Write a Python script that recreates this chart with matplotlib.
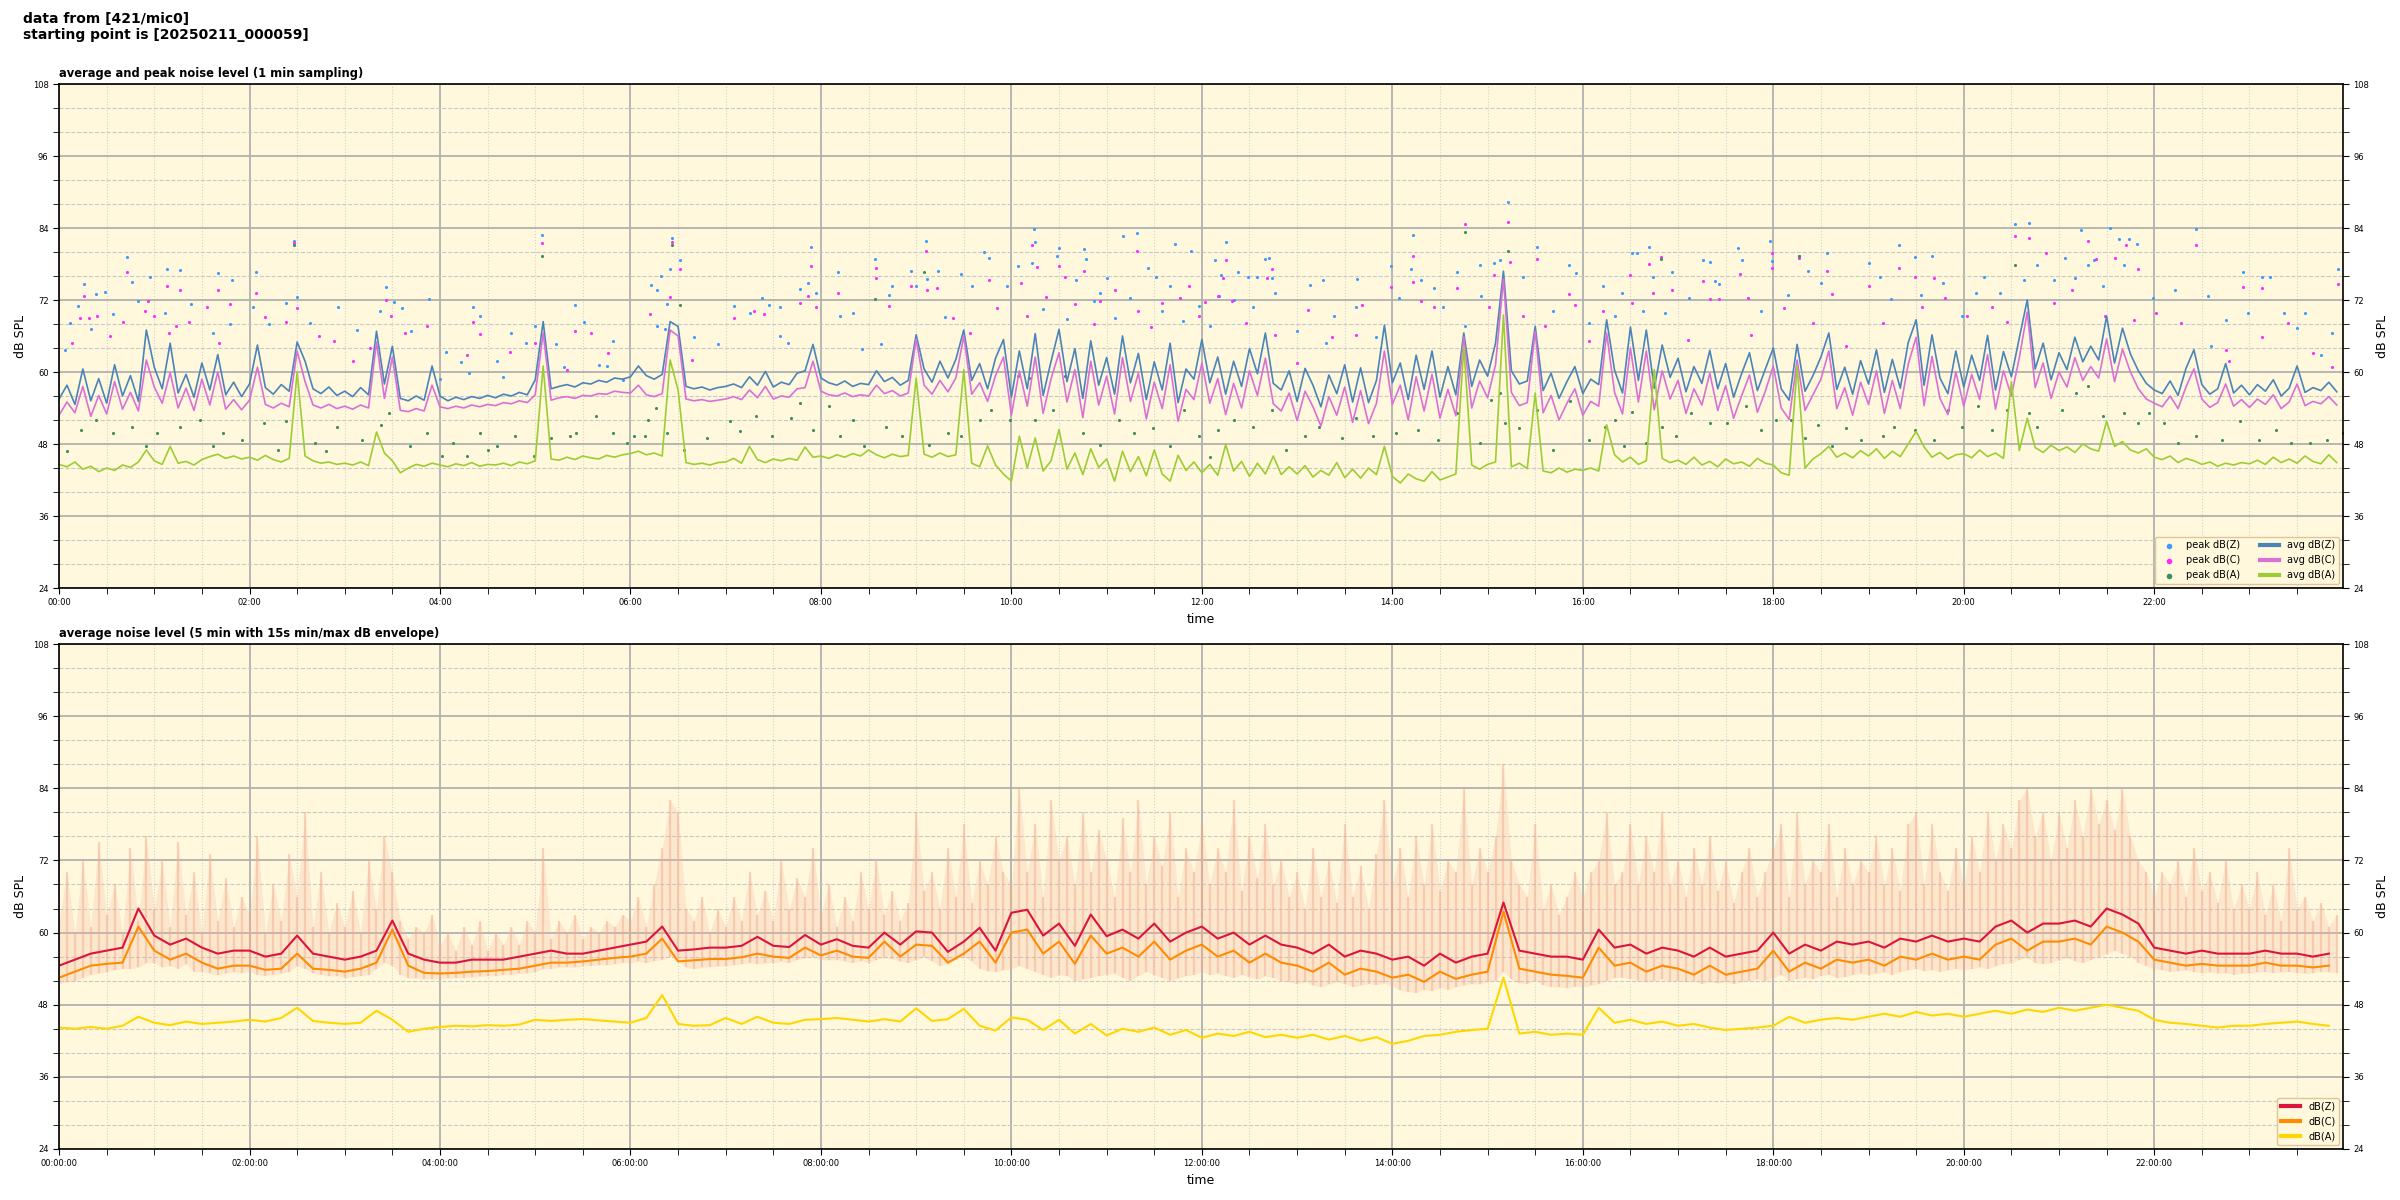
import numpy as np
import matplotlib.pyplot as plt
import matplotlib.dates as mdates
from matplotlib.ticker import MultipleLocator


# ==========================================================
# Data
# ==========================================================

day0 = np.datetime64("2025-02-11T00:00")

# --- top panel: 1 min averages, sampled here every 5 min (one row = one hour)
avg_z = [
    55.5, 57.8, 54.6, 60.5, 55.2, 58.9, 54.8, 61.2, 56.0, 59.4, 55.1, 67.0,
    60.8, 57.2, 64.8, 56.5, 59.6, 55.8, 61.5, 57.0, 62.9, 56.2, 58.3, 55.9,
    58.0, 64.5, 57.4, 56.3, 57.9, 56.8, 65.0, 61.8, 57.2, 56.4, 57.5, 56.1,
    56.8, 55.9, 57.4, 56.2, 66.8, 58.0, 64.3, 55.6, 55.2, 56.0, 55.3, 61.0,
    56.0, 55.2, 55.8, 55.4, 55.9, 55.6, 56.1, 55.7, 56.3, 56.0, 56.6, 56.2,
    58.7, 68.4, 57.2, 57.6, 57.9, 57.5, 58.2, 58.0, 58.6, 58.3, 59.0, 58.8,
    59.2, 61.0, 59.4, 58.8, 59.6, 68.4, 67.6, 57.6, 57.2, 57.5, 57.0, 57.4,
    57.6, 58.0, 57.4, 59.2, 57.8, 60.1, 57.5, 58.3, 57.9, 59.8, 60.2, 64.6,
    59.0, 58.2, 57.8, 58.5, 57.6, 58.1, 57.9, 60.2, 58.4, 59.1, 57.8, 58.6,
    66.2, 60.5, 58.3, 61.8, 59.0, 62.1, 67.0, 58.6, 61.4, 57.2, 62.3, 65.4,
    55.8, 63.5, 57.2, 66.4, 56.1, 61.8, 67.1, 58.4, 63.9, 55.6, 65.2, 57.8,
    62.4, 56.3, 66.0, 58.2, 63.1, 55.4, 61.7, 57.0, 64.8, 54.9, 60.5, 58.8,
    65.4, 58.2, 62.5, 56.3, 61.8, 57.6, 63.9, 59.7, 66.5, 58.1, 57.0, 60.2,
    55.1, 60.6, 57.8, 54.2, 59.5, 56.4, 61.2, 55.0, 60.7, 54.9, 58.6, 67.8,
    58.2, 61.5, 55.4, 62.8, 57.1, 63.5, 55.8, 60.9, 56.2, 66.5, 57.6, 62.0,
    59.3, 64.8, 76.8, 60.2, 58.0, 58.5, 67.6, 56.9, 59.8, 55.6, 58.4, 60.9,
    56.4, 58.8, 57.9, 68.7, 60.3, 56.5, 67.5, 58.6, 67.0, 57.3, 64.5, 59.1,
    62.3, 56.7, 60.9, 58.1, 63.6, 57.2, 61.4, 55.8, 59.7, 63.2, 56.9, 60.5,
    64.0, 57.2, 55.3, 64.6, 56.8, 59.4, 62.5, 66.5, 57.1, 60.8, 56.3, 61.9,
    58.0, 63.7, 56.6, 62.1, 57.3, 64.9, 68.7, 57.8, 66.2, 59.0, 56.4, 63.5,
    57.5, 62.8, 58.6, 66.1, 57.0, 63.4, 59.2, 65.7, 72.0, 60.5, 64.8, 58.7,
    63.2, 60.4, 65.8, 61.7, 64.3, 62.0, 69.3, 61.5, 67.3, 63.0, 60.2, 58.1,
    57.0, 56.4, 58.5, 56.1, 60.6, 63.7, 57.9, 56.3, 57.2, 61.4, 56.5, 57.8,
    56.2, 57.9, 56.8, 58.7, 56.0, 57.3, 61.0, 56.6, 57.4, 56.9, 58.3, 56.7,
]
avg_c = [
    52.8, 55.0, 53.2, 57.6, 52.6, 56.1, 53.0, 58.4, 53.8, 56.6, 53.5, 62.0,
    57.5, 54.8, 59.9, 54.0, 57.3, 53.6, 58.8, 54.5, 60.0, 53.8, 55.4, 53.7,
    55.3, 60.8, 54.6, 54.0, 54.8, 54.2, 63.5, 58.4, 54.5, 54.0, 54.6, 53.9,
    54.3, 53.8, 54.5, 54.0, 65.0, 55.6, 62.5, 53.6, 53.4, 53.9, 53.5, 57.8,
    54.2, 53.9, 54.3, 54.0, 54.5, 54.2, 54.6, 54.4, 54.9, 54.7, 55.2, 54.9,
    56.2, 66.5, 55.3, 55.7, 55.9, 55.6, 56.1, 56.0, 56.4, 56.3, 56.8, 56.6,
    56.5, 57.8, 56.2, 55.9, 56.4, 67.0, 66.0, 55.5, 55.2, 55.4, 55.1, 55.3,
    55.5, 55.9, 55.4, 57.0, 55.7, 57.6, 55.5, 56.0, 55.8, 57.2, 57.4, 61.8,
    56.8, 56.2, 56.0, 56.5, 55.9, 56.2, 56.0, 57.8, 56.4, 56.9, 56.0, 56.5,
    65.5, 57.8, 56.3, 58.6, 56.7, 59.0, 66.0, 56.3, 58.2, 55.1, 59.4, 62.5,
    52.8, 60.2, 54.3, 62.5, 53.1, 58.9, 63.2, 55.0, 60.4, 52.4, 61.8, 54.5,
    59.3, 53.0, 62.4, 55.1, 59.8, 52.2, 58.3, 53.9, 61.2, 51.8, 57.1, 55.4,
    61.5, 54.8, 58.9, 52.9, 58.1, 54.0, 60.2, 56.1, 62.3, 54.7, 53.5, 56.5,
    51.9, 56.8, 54.2, 51.0, 55.9, 52.8, 57.5, 51.6, 56.9, 51.4, 54.8, 63.5,
    54.6, 57.8, 52.0, 59.2, 53.5, 59.6, 52.3, 57.1, 52.7, 65.8, 54.0, 58.5,
    55.7, 61.2, 75.5, 56.6, 54.4, 54.9, 66.8, 53.2, 56.1, 52.0, 54.8, 57.2,
    52.8, 55.1, 54.3, 66.5, 56.6, 53.0, 64.0, 55.0, 63.5, 53.7, 60.2, 55.5,
    58.6, 53.1, 57.2, 54.5, 59.8, 53.6, 57.7, 52.3, 56.0, 59.5, 53.3, 56.8,
    61.0, 54.0, 52.1, 62.0, 53.6, 56.2, 58.8, 63.5, 53.9, 57.4, 52.8, 58.3,
    54.6, 60.2, 53.1, 58.6, 53.9, 61.3, 65.8, 54.4, 62.6, 55.6, 52.9, 60.0,
    54.3, 59.6, 55.4, 62.9, 53.8, 60.2, 56.0, 62.4, 70.0, 57.4, 61.5, 55.6,
    60.0, 57.5, 62.4, 58.6, 60.9, 59.0, 65.5, 58.4, 63.8, 60.0, 57.2, 55.5,
    54.8, 54.2, 56.0, 53.9, 57.5, 60.5, 55.5, 54.1, 54.9, 58.0, 54.3, 55.4,
    54.1, 55.5, 54.6, 56.2, 53.9, 55.0, 58.0, 54.4, 55.1, 54.7, 55.9, 54.5,
]
avg_a = [
    44.6, 44.2, 45.0, 43.8, 44.3, 43.4, 44.0, 43.6, 44.5, 44.1, 45.0, 47.0,
    45.2, 44.6, 47.6, 44.8, 45.1, 44.5, 45.4, 45.9, 46.3, 45.6, 46.0, 45.5,
    45.8, 45.3, 46.1, 45.4, 45.0, 45.6, 60.0, 46.0, 45.2, 44.8, 45.0, 44.6,
    44.8, 44.5, 45.0, 44.4, 50.0, 46.5, 45.2, 43.2, 44.0, 44.6, 44.3, 44.8,
    44.5, 44.2, 44.7, 44.4, 44.9, 44.3, 44.6, 44.5, 44.8, 44.4, 45.0, 44.7,
    45.2, 61.0, 45.5, 45.3, 45.8, 45.4, 46.0, 45.7, 45.5, 46.1, 45.8, 46.2,
    46.4, 46.8, 46.2, 46.5, 46.0, 62.0, 57.0, 44.9, 44.6, 44.8, 44.5, 44.9,
    45.0, 45.6, 44.8, 47.6, 45.4, 44.9, 45.5, 45.2, 45.6, 45.3, 47.5, 45.8,
    46.0, 45.6, 46.2, 45.8, 46.4, 46.0, 47.0, 46.2, 45.7, 46.3, 45.9, 46.1,
    59.0, 46.3, 45.8, 46.5, 45.9, 46.2, 60.4, 44.8, 44.2, 47.7, 44.5, 43.0,
    41.8, 49.3, 44.0, 49.0, 43.5, 45.2, 50.4, 43.8, 46.5, 42.9, 47.2, 44.1,
    45.5, 41.8, 46.8, 43.4, 45.9, 42.7, 47.0, 43.0, 41.8, 46.1, 43.6, 45.0,
    43.2, 44.6, 42.8, 47.9, 43.5, 45.1, 42.6, 44.8, 43.0, 46.0, 42.9, 44.2,
    43.0, 44.4, 42.5, 43.6, 42.8, 44.9, 42.4, 43.8, 42.3, 44.0, 42.9, 47.6,
    42.6, 41.5, 43.0, 42.2, 41.8, 43.4, 42.0, 42.5, 43.0, 64.3, 44.5, 43.8,
    44.6, 45.0, 69.5, 44.2, 44.8, 43.9, 56.5, 43.5, 43.2, 44.0, 43.3, 43.8,
    43.6, 44.0, 43.5, 51.2, 46.2, 45.0, 45.8, 44.6, 45.2, 60.4, 45.6, 44.9,
    45.3, 44.6, 45.8, 44.5, 45.1, 44.2, 45.5, 44.7, 45.0, 44.3, 45.6, 44.8,
    44.5, 43.2, 42.8, 61.0, 44.0, 45.5, 46.4, 47.6, 45.8, 46.5, 45.7, 46.9,
    46.0, 47.2, 45.6, 46.8, 45.9, 48.0, 50.1, 47.5, 45.8, 46.6, 45.5, 46.2,
    46.4, 45.7, 47.0, 45.9, 46.5, 45.6, 58.4, 46.9, 52.3, 47.4, 46.6, 47.8,
    46.9, 47.5, 46.6, 48.0, 47.2, 46.8, 51.8, 47.6, 48.4, 47.0, 46.5, 47.2,
    45.8, 45.4, 46.0, 44.9, 45.6, 45.2, 44.6, 45.0, 44.3, 44.8, 44.5, 44.9,
    44.7, 45.3, 44.6, 45.8, 44.9, 45.5, 44.8, 46.0, 45.1, 44.7, 46.2, 44.9,
]

# --- top panel: 1 min peaks (minute of day, dB)
peak_z_min = [
    43, 16, 12, 23, 29, 46, 57, 68, 76, 100, 109, 124, 150, 148, 206, 233, 261, 304,
    325, 349, 4, 7, 20, 34, 50, 67, 83, 97, 108, 122, 132, 143, 158, 176, 188, 202,
    211, 216, 222, 244, 253, 265, 276, 285, 294, 300, 313, 331, 340, 355, 240, 258,
    280, 318, 345,
    386, 391, 385, 379, 373, 377, 383, 377, 382, 400, 415, 425, 435, 443, 447, 454,
    454, 459, 467, 472, 474, 477, 491, 492, 500, 506, 514, 518, 525, 523, 537, 540,
    546, 547, 554, 558, 568, 575, 583, 586, 597, 604, 614, 615, 630, 646, 647, 670,
    679, 703, 713, 660, 656, 691, 613, 629, 686, 641, 700, 620, 635, 652, 665, 675,
    695, 708, 718,
    735, 728, 732, 743, 749, 755, 760, 762, 764, 788, 796, 818, 839, 853, 852, 866,
    881, 895, 904, 908, 913, 931, 951, 956, 973, 991, 994, 1002, 1004, 1016, 1036,
    1040, 1043, 1058, 1060, 1078, 1079, 725, 731, 740, 752, 766, 780, 798, 803, 817,
    830, 844, 858, 872, 886, 896, 922, 941, 964, 980, 985, 998, 1012, 1027, 1046, 1072,
    1096, 1114, 1159, 1169, 1180, 1232, 1241, 1274, 1292, 1298, 1304, 1309, 1346,
    1436, 1376, 1388, 1393, 1089, 1102, 1110, 1140, 1147, 1154, 1173, 1187, 1199,
    1208, 1213, 1223, 1238, 1246, 1257, 1264, 1270, 1278, 1282, 1288, 1301, 1319,
    1333, 1354, 1365, 1379, 1402, 1415, 1432, 1425, 1410, 1356,
]
peak_z_db = [
    79.2, 74.6, 71.0, 73.0, 73.3, 75.0, 75.8, 77.2, 77.0, 76.5, 75.3, 76.7, 72.5, 81.8,
    74.2, 72.2, 70.8, 82.9, 71.1, 65.1, 63.7, 68.2, 67.2, 69.7, 71.8, 69.8, 71.4, 66.5,
    68.0, 70.8, 68.0, 71.5, 68.2, 70.8, 67.0, 70.1, 71.7, 70.7, 66.8, 63.3, 61.6, 69.3,
    61.8, 66.5, 64.8, 67.7, 64.7, 68.4, 61.2, 58.7, 58.9, 59.8, 59.2, 60.8, 61.0,
    82.3, 78.6, 77.1, 76.0, 74.5, 73.7, 71.3, 67.6, 67.1, 65.9, 64.6, 71.0, 69.8, 72.3,
    71.1, 70.8, 66.0, 64.8, 73.9, 74.8, 80.9, 73.2, 76.7, 69.4, 69.8, 63.8, 78.9, 64.6,
    74.3, 72.9, 76.9, 74.3, 81.8, 75.5, 76.9, 69.2, 76.3, 74.3, 80.0, 79.0, 74.3, 77.7,
    83.8, 81.7, 80.7, 80.5, 78.9, 82.6, 83.2, 81.3, 80.2, 75.7, 73.2, 75.8, 78.2, 79.4,
    77.3, 75.4, 74.3, 70.5, 68.9, 71.8, 69.0, 72.4, 70.2, 68.5, 71.0,
    81.7, 78.6, 76.1, 76.7, 75.8, 75.8, 78.8, 79.0, 75.6, 74.5, 75.4, 75.5, 77.7, 82.9,
    77.2, 74.0, 76.7, 77.9, 78.2, 78.7, 88.3, 80.9, 77.9, 76.5, 74.3, 79.9, 79.9, 80.9,
    75.8, 76.7, 78.6, 78.3, 75.1, 80.6, 78.6, 81.9, 78.5, 67.6, 72.6, 72.0, 70.9, 73.2,
    66.8, 64.8, 69.3, 70.9, 65.9, 72.3, 75.4, 70.9, 67.6, 72.6, 75.9, 70.1, 68.2, 69.3,
    73.2, 70.1, 69.8, 72.3, 74.6, 70.1,
    79.4, 79.8, 81.1, 79.2, 79.4, 84.6, 84.8, 83.6, 84.0, 82.2, 82.2, 81.4, 83.8, 77.2,
    76.7, 75.9, 75.9, 72.9, 76.8, 74.8, 78.2, 75.9, 72.1, 72.9, 74.8, 69.3, 73.2, 75.9,
    73.2, 75.4, 77.9, 75.4, 79.0, 75.7, 77.9, 78.7, 74.3, 77.9, 72.3, 73.7, 72.6, 68.7,
    69.8, 69.8, 69.8, 66.5, 62.9, 67.3, 64.3,
]

peak_c_min = [
    43, 16, 56, 68, 76, 100, 124, 148, 150, 206, 261, 304, 325, 335, 8, 13, 19, 24, 32,
    40, 54, 60, 69, 74, 82, 93, 101, 108, 130, 143, 164, 173, 185, 196, 209, 218, 232,
    257, 265, 284, 300, 320, 346,
    386, 391, 385, 372, 384, 399, 425, 438, 444, 467, 474, 472, 477, 491, 515, 515, 523,
    537, 546, 547, 553, 563, 574, 586, 591, 613, 616, 606, 610, 630, 634, 646, 656, 679,
    680, 695, 706, 712, 718, 640, 665, 622, 652, 688,
    735, 733, 722, 730, 739, 764, 761, 748, 766, 787, 802, 821, 839, 853, 853, 858, 866,
    886, 881, 901, 904, 913, 914, 931, 936, 951, 955, 973, 990, 1002, 1004, 1016, 1036,
    1040, 1046, 1059, 1064, 1079, 1079, 1066, 1009, 964, 922, 991, 1026, 780, 817,
    1096, 1114, 1117, 1140, 1159, 1169, 1181, 1188, 1232, 1241, 1252, 1278, 1283, 1295,
    1302, 1310, 1346, 1376, 1388, 1436, 1087, 1105, 1126, 1149, 1174, 1202, 1218, 1227,
    1257, 1268, 1289, 1307, 1321, 1337, 1365, 1388, 1404, 1420, 1432, 1367,
]
peak_c_db = [
    76.7, 72.7, 71.8, 74.4, 73.7, 73.6, 73.2, 81.5, 70.6, 72.0, 68.3, 81.5, 66.9, 66.5,
    64.8, 69.0, 69.0, 69.3, 66.0, 68.4, 70.1, 69.3, 66.5, 67.6, 68.4, 70.9, 64.9, 71.4,
    69.2, 68.4, 66.0, 65.1, 61.8, 64.0, 69.3, 66.5, 67.6, 62.9, 66.4, 63.4, 64.8, 60.4,
    63.2,
    81.7, 77.1, 72.5, 69.6, 66.8, 62.0, 69.0, 70.2, 69.6, 71.5, 77.7, 72.7, 70.8, 73.2,
    77.3, 75.7, 71.0, 74.3, 80.2, 73.7, 74.0, 69.0, 66.5, 75.4, 70.7, 81.1, 77.5, 74.9,
    69.3, 77.6, 75.9, 76.9, 71.8, 80.1, 70.1, 71.5, 72.3, 74.4, 69.3, 71.4, 73.7, 72.5,
    68.0, 67.5,
    78.7, 75.6, 71.7, 72.6, 71.8, 77.2, 75.6, 68.2, 66.1, 70.4, 65.9, 71.2, 74.2, 79.4,
    75.0, 71.8, 70.8, 84.7, 74.0, 70.9, 76.2, 85.0, 78.4, 78.9, 67.6, 73.0, 71.2, 70.1,
    76.1, 78.0, 73.2, 73.7, 75.1, 72.1, 72.1, 76.4, 72.3, 79.9, 77.3, 66.2, 79.1, 65.1,
    69.3, 71.5, 65.4, 61.5, 66.2,
    79.0, 76.9, 73.0, 74.4, 77.3, 75.8, 75.7, 72.3, 82.6, 82.3, 79.9, 81.8, 78.8, 79.0,
    81.2, 77.2, 81.2, 74.2, 74.0, 74.6, 70.7, 68.2, 64.3, 68.2, 70.9, 69.3, 70.9, 68.4,
    71.5, 73.7, 69.3, 68.7, 69.8, 68.2, 63.7, 65.9, 68.2, 63.2, 60.9, 61.8,
]

peak_a_min = [
    148, 304, 23, 34, 46, 62, 76, 89, 103, 115, 129, 143, 161, 175, 191, 203, 208, 221,
    232, 248, 265, 276, 287, 299, 310, 326, 338, 349, 5, 14, 55, 97, 138, 168, 241, 257,
    270, 322, 358,
    386, 391, 371, 376, 362, 369, 383, 394, 408, 423, 429, 439, 449, 461, 467, 475, 485,
    492, 500, 507, 514, 521, 531, 545, 548, 560, 568, 580, 587, 599, 611, 615, 626, 634,
    645, 656, 668, 677, 689, 700, 709, 718, 604,
    886, 913, 1009, 725, 730, 740, 752, 764, 773, 785, 794, 808, 817, 828, 842, 856, 869,
    881, 895, 902, 911, 920, 931, 941, 952, 964, 974, 980, 986, 1000, 1010, 1019, 1028,
    1040, 1051, 1063, 1072, 908, 991,
    1096, 1232, 1082, 1091, 1100, 1108, 1117, 1126, 1135, 1149, 1156, 1169, 1181, 1190,
    1199, 1209, 1218, 1227, 1241, 1246, 1262, 1271, 1278, 1288, 1301, 1310, 1317, 1326,
    1335, 1346, 1363, 1374, 1386, 1397, 1406, 1418, 1429, 1439,
]
peak_a_db = [
    81.2, 79.4, 52.0, 49.8, 50.9, 49.8, 50.9, 52.0, 49.8, 48.7, 51.5, 51.8, 48.2, 50.9,
    48.7, 51.1, 53.2, 47.6, 49.8, 48.2, 49.8, 47.6, 49.3, 46.0, 49.0, 49.8, 52.6, 49.8,
    46.8, 50.4, 47.6, 47.6, 47.0, 46.8, 46.0, 46.0, 47.0, 49.3, 48.2,
    81.1, 71.1, 52.0, 54.0, 49.3, 49.3, 49.8, 47.0, 49.0, 51.8, 50.1, 52.6, 49.3, 52.3,
    54.9, 50.4, 54.3, 49.3, 52.0, 47.6, 72.2, 50.9, 49.3, 76.7, 47.9, 49.8, 49.3, 52.0,
    53.7, 52.0, 59.0, 52.0, 53.7, 59.3, 49.8, 47.9, 52.0, 49.8, 50.7, 47.6, 53.7, 49.3,
    59.3,
    83.3, 80.2, 78.9, 45.9, 50.4, 52.0, 50.9, 53.7, 47.0, 49.3, 50.9, 49.0, 52.3, 49.3,
    49.8, 50.4, 48.7, 53.2, 48.2, 55.4, 51.5, 50.7, 53.7, 47.0, 55.1, 48.7, 50.9, 52.0,
    47.6, 48.2, 50.9, 49.3, 53.2, 51.5, 51.5, 54.3, 50.4, 56.5, 53.4,
    79.3, 77.9, 52.0, 52.0, 49.0, 51.2, 47.6, 50.7, 48.7, 49.3, 50.9, 50.4, 48.7, 53.7,
    50.9, 54.3, 50.4, 53.7, 53.2, 50.9, 53.7, 56.5, 57.6, 52.6, 53.2, 51.5, 53.2, 51.5,
    48.2, 49.3, 48.7, 51.8, 48.7, 50.4, 48.2, 48.2, 48.7, 49.8,
]

# --- bottom panel: 5 min averages, sampled here every 10 min (one row = one hour)
lvl_z = [
    54.5, 55.5, 56.5, 57.0, 57.5, 64.0,
    59.5, 58.0, 59.0, 57.5, 56.5, 57.0,
    57.0, 56.0, 56.5, 59.5, 56.5, 56.0,
    55.5, 56.0, 57.0, 62.0, 56.5, 55.5,
    55.0, 55.0, 55.5, 55.5, 55.5, 56.0,
    56.5, 57.0, 56.5, 56.5, 57.0, 57.5,
    58.0, 58.5, 61.0, 57.0, 57.2, 57.5,
    57.5, 57.8, 59.3, 57.8, 57.6, 59.6,
    58.0, 58.9, 57.8, 57.5, 60.0, 58.0,
    60.2, 60.0, 56.8, 58.5, 60.8, 57.0,
    63.3, 63.8, 59.5, 61.5, 57.8, 63.0,
    59.4, 60.5, 59.0, 61.5, 58.5, 60.0,
    61.0, 59.0, 60.0, 58.0, 59.5, 58.0,
    57.5, 56.5, 58.0, 56.0, 57.0, 56.5,
    55.5, 56.0, 54.5, 56.5, 55.0, 56.0,
    56.5, 65.0, 57.0, 56.5, 56.0, 56.0,
    55.5, 60.5, 57.5, 58.0, 56.5, 57.5,
    57.0, 56.0, 57.5, 56.0, 56.5, 57.0,
    60.0, 56.5, 58.0, 57.0, 58.5, 58.0,
    58.5, 57.5, 59.0, 58.5, 59.5, 58.5,
    59.0, 58.5, 61.0, 62.0, 60.0, 61.5,
    61.5, 62.0, 61.0, 64.0, 63.0, 61.5,
    57.5, 57.0, 56.5, 57.0, 56.5, 56.5,
    56.5, 57.0, 56.5, 56.5, 56.0, 56.5,
]
lvl_c = [
    52.5, 53.5, 54.5, 54.8, 55.0, 61.0,
    57.0, 55.5, 56.5, 55.0, 54.0, 54.5,
    54.5, 53.8, 54.0, 56.5, 54.0, 53.8,
    53.5, 54.0, 55.0, 60.5, 54.5, 53.3,
    53.2, 53.3, 53.5, 53.6, 53.8, 54.0,
    54.5, 55.0, 55.0, 55.2, 55.5, 55.8,
    56.0, 56.5, 59.0, 55.2, 55.4, 55.6,
    55.6, 55.9, 56.5, 56.0, 55.8, 57.5,
    56.2, 57.0, 56.0, 55.8, 58.5, 56.0,
    58.0, 57.8, 55.0, 56.5, 58.5, 55.0,
    60.0, 60.5, 56.5, 58.5, 54.8, 59.5,
    56.5, 57.5, 56.0, 58.5, 55.5, 57.0,
    58.0, 56.0, 57.0, 55.0, 56.5, 55.0,
    54.5, 53.5, 55.0, 53.0, 54.0, 53.5,
    52.5, 53.0, 51.8, 53.5, 52.3, 53.0,
    53.5, 63.5, 54.0, 53.5, 53.0, 52.8,
    52.5, 57.5, 54.5, 55.0, 53.5, 54.5,
    54.0, 53.0, 54.5, 53.0, 53.5, 54.0,
    57.0, 53.5, 55.0, 54.0, 55.5, 55.0,
    55.5, 54.5, 56.0, 55.5, 56.5, 55.5,
    56.0, 55.5, 58.0, 59.0, 57.0, 58.5,
    58.5, 59.0, 58.0, 61.0, 60.0, 58.5,
    55.5, 55.0, 54.5, 54.8, 54.5, 54.5,
    54.5, 55.0, 54.5, 54.5, 54.2, 54.5,
]
lvl_a = [
    44.2, 44.0, 44.3, 44.0, 44.5, 46.0,
    45.0, 44.6, 45.2, 44.8, 45.0, 45.2,
    45.5, 45.2, 45.8, 47.5, 45.3, 45.0,
    44.8, 45.0, 47.0, 45.5, 43.5, 44.0,
    44.3, 44.5, 44.4, 44.6, 44.5, 44.7,
    45.5, 45.3, 45.5, 45.6, 45.4, 45.2,
    45.0, 45.8, 49.6, 44.8, 44.5, 44.6,
    45.8, 44.8, 46.0, 45.0, 44.8, 45.5,
    45.6, 45.8, 45.5, 45.2, 45.6, 45.2,
    47.4, 45.3, 45.6, 47.3, 44.5, 43.7,
    45.9, 45.5, 43.8, 45.5, 43.2, 44.8,
    42.9, 44.0, 43.5, 44.2, 43.0, 43.8,
    42.5, 43.2, 42.8, 43.5, 42.6, 43.0,
    42.5, 43.0, 42.2, 42.8, 42.0, 42.6,
    41.5, 42.0, 42.8, 43.0, 43.5, 43.8,
    44.0, 52.5, 43.2, 43.5, 43.0, 43.2,
    43.0, 47.5, 45.0, 45.5, 44.8, 45.2,
    44.5, 44.8, 44.2, 43.8, 44.0, 44.2,
    44.5, 46.0, 45.0, 45.5, 45.8, 45.5,
    46.0, 46.5, 46.0, 46.8, 46.2, 46.5,
    46.0, 46.5, 47.0, 46.5, 47.2, 46.8,
    47.5, 47.0, 47.5, 48.0, 47.5, 47.0,
    45.5, 45.0, 44.8, 44.5, 44.2, 44.5,
    44.5, 44.8, 45.0, 45.2, 44.8, 44.5,
]

# 15 s min/max envelope, sampled every 5 min
env_hi = [
    62, 70, 60, 72, 61, 75, 63, 68, 60, 74, 62, 76,
    64, 72, 61, 75, 63, 70, 60, 73, 62, 69, 61, 66,
    63, 76, 60, 68, 62, 73, 66, 80, 61, 70, 60, 65,
    61, 67, 60, 72, 64, 76, 70, 62, 59, 61, 60, 63,
    58, 60, 57, 61, 58, 62, 57, 60, 58, 61, 58, 62,
    60, 74, 59, 62, 60, 63, 59, 61, 60, 62, 61, 63,
    62, 66, 61, 68, 74, 82, 80, 64, 62, 66, 60, 64,
    61, 66, 62, 70, 63, 67, 62, 72, 64, 69, 66, 74,
    63, 68, 61, 66, 62, 70, 64, 72, 63, 67, 62, 65,
    80, 67, 70, 64, 74, 66, 78, 65, 72, 68, 76, 70,
    68, 84, 70, 78, 66, 82, 72, 76, 68, 80, 70, 77,
    72, 66, 79, 70, 82, 68, 76, 71, 80, 66, 74, 70,
    78, 68, 74, 70, 82, 67, 76, 69, 78, 68, 72, 66,
    70, 64, 74, 66, 72, 65, 78, 66, 71, 64, 73, 82,
    68, 74, 66, 76, 68, 78, 67, 72, 70, 84, 68, 74,
    70, 76, 88, 72, 68, 66, 78, 64, 68, 63, 66, 70,
    66, 70, 72, 80, 68, 70, 78, 68, 76, 70, 80, 68,
    72, 66, 74, 68, 76, 67, 72, 65, 70, 74, 66, 70,
    74, 78, 66, 80, 68, 72, 70, 78, 66, 74, 68, 72,
    70, 76, 68, 74, 67, 78, 80, 68, 78, 70, 67, 74,
    68, 76, 70, 80, 72, 78, 74, 82, 84, 76, 80, 72,
    80, 74, 82, 76, 84, 78, 82, 77, 84, 76, 72, 70,
    66, 70, 68, 72, 66, 74, 67, 70, 65, 72, 64, 68,
    64, 70, 63, 68, 62, 74, 64, 66, 62, 65, 61, 63,
]
env_lo = [
    51.5, 51.8, 52.0, 52.5, 53.0, 53.2, 53.5, 53.8, 54.0, 54.0, 54.2, 55.0,
    55.0, 54.2, 54.5, 54.0, 54.8, 53.5, 53.5, 53.2, 53.0, 53.2, 53.5, 53.3,
    53.5, 53.0, 52.8, 53.0, 53.2, 53.5, 54.5, 54.0, 53.2, 53.0, 52.8, 52.8,
    52.5, 52.6, 52.8, 53.0, 54.0, 55.0, 54.5, 53.0, 52.5, 52.4, 52.3, 52.3,
    52.3, 52.4, 52.5, 52.5, 52.6, 52.7, 52.8, 52.8, 53.0, 53.0, 53.2, 53.3,
    53.5, 54.0, 54.0, 54.2, 54.3, 54.2, 54.4, 54.5, 54.6, 54.6, 54.8, 55.0,
    55.0, 55.2, 55.0, 55.3, 55.5, 56.0, 55.5, 54.2, 54.0, 54.2, 54.3, 54.4,
    54.5, 54.6, 54.8, 55.0, 54.8, 54.9, 55.0, 55.2, 55.0, 55.5, 55.8, 56.0,
    55.5, 55.4, 55.5, 55.2, 55.0, 55.3, 55.0, 55.5, 55.8, 55.6, 55.2, 55.0,
    55.5, 56.0, 55.2, 54.5, 54.8, 55.5, 56.0, 55.2, 54.0, 53.6, 53.5, 53.8,
    54.0, 54.5, 54.0, 53.5, 53.0, 52.5, 53.0, 52.8, 52.0, 52.2, 52.5, 52.8,
    53.0, 53.2, 52.5, 52.0, 52.8, 53.5, 53.0, 52.5, 52.0, 52.4, 52.8, 53.0,
    53.5, 53.0, 53.2, 52.8, 52.5, 53.0, 52.6, 52.2, 52.8, 52.5, 52.0, 51.8,
    51.5, 51.8, 51.2, 51.0, 51.4, 51.8, 51.5, 51.0, 51.2, 51.5, 51.3, 51.6,
    51.0, 50.5, 50.2, 50.0, 50.5, 50.3, 50.8, 50.5, 51.0, 51.2, 51.5, 51.4,
    51.8, 52.0, 53.5, 52.2, 51.6, 51.5, 52.0, 51.3, 51.0, 51.0, 50.8, 51.0,
    51.0, 51.2, 51.5, 52.0, 52.5, 52.5, 52.3, 52.0, 51.8, 52.0, 52.2, 52.0,
    52.0, 51.8, 52.0, 51.5, 51.8, 51.6, 51.8, 51.5, 51.8, 52.0, 52.2, 52.0,
    52.5, 53.0, 52.0, 52.2, 52.5, 52.3, 52.8, 53.0, 52.5, 52.6, 53.0, 53.2,
    53.0, 53.2, 53.4, 53.0, 53.5, 53.8, 54.0, 53.6, 53.8, 53.5, 53.8, 54.0,
    53.8, 54.0, 54.2, 54.0, 54.5, 54.8, 55.0, 55.5, 55.8, 55.0, 54.8, 55.0,
    55.5, 55.8, 55.2, 55.0, 55.5, 56.0, 56.5, 57.0, 56.5, 56.0, 55.0, 54.5,
    54.0, 53.8, 53.5, 53.6, 53.8, 53.5, 53.3, 53.4, 53.2, 53.3, 53.0, 53.2,
    53.2, 53.4, 53.5, 53.3, 53.4, 53.5, 53.3, 53.2, 53.3, 53.5, 53.4, 53.3,
]


# ==========================================================
# Helpers
# ==========================================================

def to_time(minutes):
    return day0 + np.asarray(minutes).astype("timedelta64[m]")


t5 = to_time(np.arange(len(avg_z)) * 5)
t10 = to_time(np.arange(len(lvl_z)) * 10)

BG = "#fff8dc"
TICK_FS = 6
LABEL_FS = 9


def style_axes(ax, fmt):
    ax.set_facecolor(BG)
    ax.set_ylim(24, 108)
    ax.set_xlim(day0, day0 + np.timedelta64(1439, "m"))
    ax.yaxis.set_major_locator(MultipleLocator(12))
    ax.yaxis.set_minor_locator(MultipleLocator(4))
    ax.xaxis.set_major_locator(mdates.HourLocator(byhour=range(0, 24, 2)))
    ax.xaxis.set_minor_locator(mdates.MinuteLocator(byminute=[0, 30]))
    ax.xaxis.set_major_formatter(mdates.DateFormatter(fmt))
    ax.grid(which="major", color="#b0b0b0", lw=1.3)
    ax.yaxis.grid(which="minor", color="#c8c8c8", ls="--", lw=0.8)
    ax.xaxis.grid(which="minor", color="#d2d2d2", ls=":", lw=0.8)
    ax.set_axisbelow(True)
    # ticks and labels on both sides
    ax.tick_params(which="both", labelsize=TICK_FS, length=4,
                   right=True, labelright=True)
    ax.set_ylabel("dB SPL", fontsize=LABEL_FS)
    ax.set_xlabel("time", fontsize=LABEL_FS)
    ax.text(1.0171, 0.5, "dB SPL", transform=ax.transAxes, rotation=90,
            ha="center", va="center", fontsize=LABEL_FS)
    for sp in ax.spines.values():
        sp.set_linewidth(1.2)


# ==========================================================
# Figure
# ==========================================================

fig = plt.figure(figsize=(24, 12), dpi=100)
fig.text(0.0096, 0.99, "data from [421/mic0]\nstarting point is [20250211_000059]",
         fontsize=10, fontweight="bold", ha="left", va="top")

ax1 = fig.add_axes([0.0246, 0.51, 0.9517, 0.42])
ax2 = fig.add_axes([0.0246, 0.0425, 0.9517, 0.4208])

# ---------- top panel ----------
h1 = ax1.scatter(to_time(peak_z_min), peak_z_db, s=5, color="#3d9bff", lw=0, label="peak dB(Z)")
h2 = ax1.scatter(to_time(peak_c_min), peak_c_db, s=5, color="#ff2bff", lw=0, label="peak dB(C)")
h3 = ax1.scatter(to_time(peak_a_min), peak_a_db, s=5, color="#3c8f5a", lw=0, label="peak dB(A)")
l1, = ax1.plot(t5, avg_z, color="#4a84b8", lw=1.2, label="avg dB(Z)")
l2, = ax1.plot(t5, avg_c, color="#da70d6", lw=1.2, label="avg dB(C)")
l3, = ax1.plot(t5, avg_a, color="#9ccd35", lw=1.2, label="avg dB(A)")

style_axes(ax1, "%H:%M")
ax1.set_title("average and peak noise level (1 min sampling)", loc="left",
              fontsize=8.3, fontweight="bold", pad=5)
leg1 = ax1.legend(handles=[h1, h2, h3, l1, l2, l3], loc="lower right", ncol=2,
                  fontsize=7, facecolor=BG, edgecolor="#dcc79c", framealpha=1,
                  markerscale=1.8, borderaxespad=0.4)
for ln in leg1.get_lines():
    ln.set_linewidth(3)

# ---------- bottom panel ----------
# min/max envelope: light band plus one thin spike per sample
ax2.fill_between(t5, env_lo, env_hi, color="#f4b8a0", alpha=0.25, lw=0)
ax2.vlines(t5, env_lo, env_hi, color="#f2a88c", alpha=0.45, lw=1.6)
m1, = ax2.plot(t10, lvl_z, color="#dc143c", lw=1.5, label="dB(Z)")
m2, = ax2.plot(t10, lvl_c, color="#ff8c00", lw=1.5, label="dB(C)")
m3, = ax2.plot(t10, lvl_a, color="#ffd700", lw=1.5, label="dB(A)")

style_axes(ax2, "%H:%M:%S")
ax2.set_title("average noise level (5 min with 15s min/max dB envelope)", loc="left",
              fontsize=8.3, fontweight="bold", pad=5)
leg2 = ax2.legend(handles=[m1, m2, m3], loc="lower right", fontsize=7,
                  facecolor=BG, edgecolor="#dcc79c", framealpha=1, borderaxespad=0.4)
for ln in leg2.get_lines():
    ln.set_linewidth(3)

fig.savefig("out.png", dpi=100, facecolor="white")
